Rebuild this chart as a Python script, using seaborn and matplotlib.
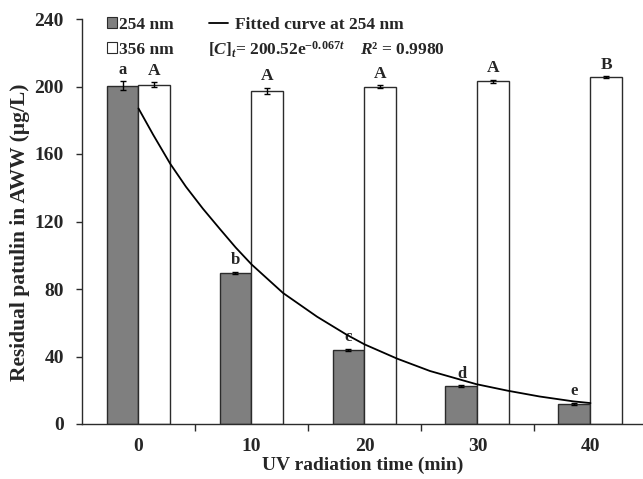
import numpy as np
import pandas as pd
import matplotlib
matplotlib.use("Agg")
import matplotlib.pyplot as plt
from matplotlib.patches import Patch
from matplotlib.lines import Line2D
from matplotlib.ticker import FixedLocator
import seaborn as sns

# ---------------- data ----------------
times = ["0", "10", "20", "30", "40"]
wavelengths = ["254 nm", "356 nm"]
values_254 = [200.5, 89.5, 44.0, 22.5, 12.0]
values_356 = [201.0, 197.5, 200.0, 203.0, 205.5]
err_254 = [2.5, 0.8, 0.5, 0.5, 0.5]
err_356 = [1.5, 1.8, 0.6, 0.8, 0.6]
letters_254 = ["a", "b", "c", "d", "e"]
letters_356 = ["A", "A", "A", "A", "B"]
# fitted curve (minutes, µg/L)
curve_t = [0, 1.3, 2.8, 4.2, 5.7, 7.2, 8.6, 10.0, 12.8, 15.8, 18.4, 20.0,
           22.9, 25.8, 29.9, 32.7, 35.5, 38.5, 40.0]
curve_v = [187, 171.4, 154.3, 140.6, 127.6, 115.6, 104.6, 94.6, 77.6, 63.6, 53.0,
           47.2, 38.7, 31.4, 23.6, 19.7, 16.3, 13.4, 12.4]
yticks = [0, 40, 80, 120, 160, 200, 240]

df = pd.DataFrame({
    "time": times * 2,
    "wl": [wavelengths[0]] * 5 + [wavelengths[1]] * 5,
    "value": values_254 + values_356,
})

# ---------------- style ----------------
sns.set_style("ticks")
plt.rcParams["font.family"] = ["Liberation Serif", "DejaVu Serif"]
plt.rcParams["font.weight"] = "bold"
plt.rcParams["mathtext.fontset"] = "custom"
plt.rcParams["mathtext.rm"] = "Liberation Serif:bold"
plt.rcParams["mathtext.it"] = "Liberation Serif:italic:bold"
plt.rcParams["mathtext.bf"] = "Liberation Serif:bold"

edge = "#2b2b2b"
fig = plt.figure(figsize=(6.43, 4.79), dpi=100)
ax = fig.add_axes([82 / 643, 55 / 479, 561 / 643, 405 / 479])

sns.barplot(data=df, x="time", y="value", hue="wl", order=times,
            hue_order=wavelengths, palette=["#7f7f7f", "#ffffff"],
            width=0.566, gap=0, errorbar=None, legend=False,
            edgecolor=edge, linewidth=1.0, saturation=1, ax=ax)

errs = [err_254, err_356]
letters = [letters_254, letters_356]
sizes = [12, 12.5]
for ci, cont in enumerate(ax.containers[:2]):
    xs = [p.get_x() + p.get_width() / 2 for p in cont.patches]
    hs = [p.get_height() for p in cont.patches]
    ax.errorbar(xs, hs, yerr=errs[ci], fmt="none", ecolor="black",
                elinewidth=1.0, capsize=2.5, capthick=1.0, zorder=4)
    for x, h, e, lab in zip(xs, hs, errs[ci], letters[ci]):
        ax.text(x, h + e + 4.5, lab, ha="center", va="baseline",
                fontsize=sizes[ci], fontweight="bold")

# fitted curve (category units: 1 unit = 10 min)
ax.plot(np.array(curve_t) / 10.0, curve_v, color="black", lw=1.3, zorder=5,
        solid_joinstyle="round", antialiased=True)

# ---------------- axes ----------------
ax.set_ylim(0, 240)
ax.set_xlim(-0.5, 4.465)
ax.set_yticks(yticks)
ax.set_yticklabels([str(v) for v in yticks], fontsize=14, fontweight="bold")
ax.set_xticks(range(len(times)))
ax.set_xticklabels(times, fontsize=14, fontweight="bold")
ax.tick_params(axis="x", which="major", length=0, pad=10)
ax.xaxis.set_minor_locator(FixedLocator([0.5, 1.5, 2.5, 3.5]))
ax.tick_params(axis="x", which="minor", length=5, width=1, direction="out", color=edge)
ax.tick_params(axis="y", length=4, width=1, direction="out", color=edge, pad=9)
ax.set_xlabel("UV radiation time (min)", fontsize=14, fontweight="bold", labelpad=1)
ax.set_ylabel("Residual patulin in AWW (μg/L)", fontsize=15.5, fontweight="bold")
ax.yaxis.set_label_coords((30 - 82) / 561, (424 - 232) / 405)
for s in ["top", "right"]:
    ax.spines[s].set_visible(False)
for s in ["left", "bottom"]:
    ax.spines[s].set_color(edge)
    ax.spines[s].set_linewidth(1.0)

# ---------------- legends ----------------
h_bars = [Patch(facecolor="#7f7f7f", edgecolor=edge, lw=0.8),
          Patch(facecolor="white", edgecolor=edge, lw=0.8)]
leg1 = ax.legend(h_bars, wavelengths, loc="upper left",
                 bbox_to_anchor=((107 - 82) / 561, 1.0 + 2 / 405),
                 bbox_transform=ax.transAxes, frameon=False, fontsize=12.5,
                 handlelength=0.6, handleheight=0.6, handletextpad=0.1,
                 labelspacing=0.5, borderpad=0, borderaxespad=0)
for t in leg1.get_texts():
    t.set_fontweight("bold")
ax.add_artist(leg1)

leg2 = ax.legend([Line2D([], [], color="black", lw=1.3)], ["Fitted curve at 254 nm"],
                 loc="upper left",
                 bbox_to_anchor=((209 - 82) / 561, 1.0 + 2 / 405),
                 bbox_transform=ax.transAxes, frameon=False, fontsize=12.5,
                 handlelength=1.1, handletextpad=0.4, borderpad=0, borderaxespad=0)
for t in leg2.get_texts():
    t.set_fontweight("bold")

fig.text(208 / 643, 1 - 50 / 479,
         r"$[C]_t$= 200.52e$^{-0.067t}$    $R$² = 0.9980",
         fontsize=12.5, fontweight="bold", ha="left", va="center")

fig.savefig("out.png", dpi=100)
